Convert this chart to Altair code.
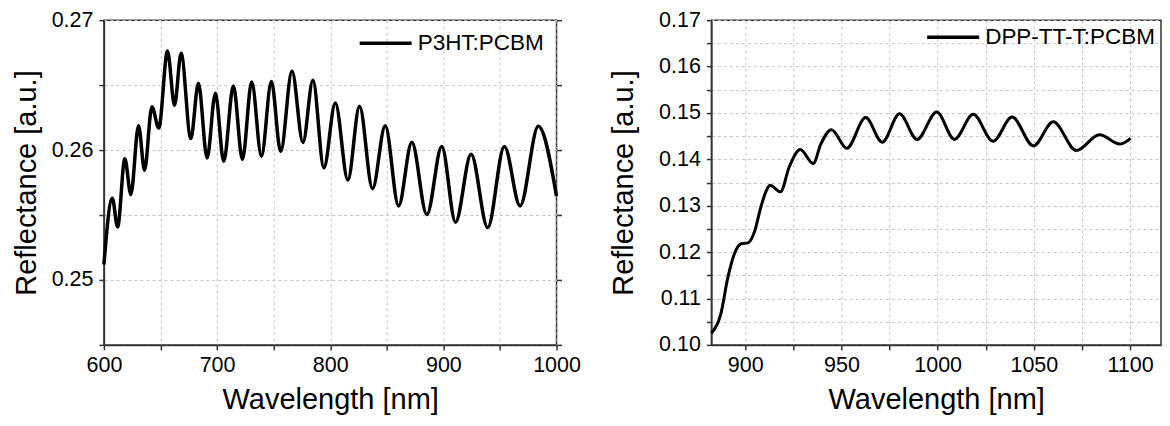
import altair as alt
import pandas as pd

FONT = "Liberation Sans"

# ---- P3HT:PCBM (left panel) ----
p3ht_wl = [600.0, 607.4, 612.1, 618.5, 623.8, 630.6, 635.9, 642.4, 648.5, 656.2,
           662.4, 668.2, 676.8, 683.5, 691.2, 698.5, 705.9, 714.4, 722.4, 730.6,
           739.2, 748.0, 756.2, 766.2, 775.9, 784.7, 794.4, 804.5, 815.6, 825.9,
           837.4, 848.6, 860.4, 872.1, 885.4, 898.6, 910.7, 924.5, 939.2, 953.9,
           967.8, 983.9, 1000.0]
p3ht_r = [0.2512, 0.25628, 0.25408, 0.25933, 0.25658, 0.26188, 0.25845, 0.26333, 0.2617, 0.26763,
          0.26345, 0.26745, 0.26088, 0.26515, 0.25938, 0.26438, 0.25913, 0.26493, 0.25928, 0.26523,
          0.25953, 0.26528, 0.25988, 0.26608, 0.26058, 0.26538, 0.25863, 0.26363, 0.2577, 0.26338,
          0.25703, 0.26188, 0.2557, 0.2606, 0.25503, 0.26028, 0.25445, 0.25968, 0.25403, 0.26028,
          0.2557, 0.26183, 0.25645]

# ---- DPP-TT-T:PCBM (right panel) ----
dpp_wl = [882.4, 887.2, 891.0, 894.5, 897.9, 901.4, 904.8, 908.3, 910.9, 912.9,
          918.3, 922.9, 928.6, 935.3, 939.3, 944.8, 952.8, 962.6, 971.2, 980.2,
          989.3, 999.5, 1008.7, 1018.5, 1028.8, 1038.7, 1049.8, 1060.1, 1072.1, 1084.1,
          1094.9, 1100.3]
dpp_r = [0.1025, 0.1065, 0.1146, 0.1198, 0.1218, 0.1220, 0.1244, 0.1300, 0.1332, 0.1344,
         0.1330, 0.1384, 0.1421, 0.1391, 0.1433, 0.1464, 0.1424, 0.1490, 0.1437, 0.1498,
         0.1443, 0.1502, 0.1443, 0.1497, 0.1439, 0.1491, 0.1429, 0.1481, 0.1419, 0.1453,
         0.1433, 0.1445]

left_x_ticks = [600, 650, 700, 750, 800, 850, 900, 950, 1000]
left_y_ticks = [0.245, 0.25, 0.255, 0.26, 0.265, 0.27]
right_x_ticks = [900, 925, 950, 975, 1000, 1025, 1050, 1075, 1100]
right_y_ticks = [0.10, 0.105, 0.11, 0.115, 0.12, 0.125, 0.13, 0.135, 0.14, 0.145,
                 0.15, 0.155, 0.16, 0.165, 0.17]

df_left = pd.DataFrame({"wl": p3ht_wl, "r": p3ht_r, "series": "P3HT:PCBM"})
df_right = pd.DataFrame({"wl": dpp_wl, "r": dpp_r, "series": "DPP-TT-T:PCBM"})

Y_LABEL_EXPR = "abs(datum.value*100 - round(datum.value*100)) < 1e-6 ? format(datum.value, '.2f') : ''"

PLOT_H = 325


def panel(df, xdom, ydom, xticks, yticks, xstep, width, lx, ly, sw, ytp, mirror_ticks):
    xenc = alt.X("wl:Q", scale=alt.Scale(domain=xdom, nice=False, zero=False),
                 axis=alt.Axis(values=xticks, title="Wavelength [nm]",
                               labelExpr=f"datum.value % {xstep} === 0 ? datum.label : ''",
                               format="d", labelPadding=5, titlePadding=9))
    yscale = alt.Scale(domain=ydom, nice=False, zero=False)
    line = alt.Chart(df).mark_line(interpolate="monotone", strokeWidth=sw).encode(
        x=xenc,
        y=alt.Y("r:Q", scale=yscale,
                axis=alt.Axis(values=yticks, title="Reflectance [a.u.]",
                              labelExpr=Y_LABEL_EXPR, labelPadding=6, titlePadding=ytp)),
        color=alt.Color("series:N", scale=alt.Scale(range=["black"]),
                        legend=alt.Legend(title=None, orient="none", legendX=lx, legendY=ly,
                                          symbolType="stroke", symbolSize=2704,
                                          symbolStrokeWidth=3.5, symbolStrokeColor="black",
                                          labelFont=FONT, labelFontSize=22.5, labelColor="black",
                                          labelOffset=4, labelLimit=400, padding=0)),
    )
    if not mirror_ticks:
        return line.properties(width=width, height=PLOT_H)
    mirror = alt.Chart(df).mark_line(opacity=0).encode(
        x=xenc,
        y=alt.Y("r:Q", scale=yscale,
                axis=alt.Axis(orient="right", values=yticks, labels=False, title=None,
                              grid=False, domain=False, ticks=True)),
    )
    return alt.layer(line, mirror).resolve_axis(y="independent").properties(
        width=width, height=PLOT_H)


left = panel(df_left, [600, 1000], [0.245, 0.27], left_x_ticks, left_y_ticks, 100,
             453, 254, -5, 3.5, 10, True)
right = panel(df_right, [882.4, 1116.1], [0.10, 0.17], right_x_ticks, right_y_ticks, 50,
              450, 214, -11, 3, 20, False)

chart = alt.hconcat(left, right, spacing=155, bounds="flush").resolve_scale(
    color="independent").properties(
    padding={"left": 3, "top": 0, "right": 0, "bottom": 0},
    background="white",
).configure_view(stroke="#333", strokeWidth=1.5).configure_axis(
    labelFont=FONT, titleFont=FONT, labelFontSize=21.5, titleFontSize=29,
    labelColor="black", titleColor="black", titleFontWeight="normal",
    tickColor="#333", tickSize=5, tickWidth=1.5,
    domainColor="#333", domainWidth=1.5,
    grid=True, gridColor="#c4c4c4", gridDash=[3, 3], gridWidth=1,
    labelFlush=False, labelOverlap=False,
)

chart.save("out.html", embed_options={"renderer": "svg", "actions": False})
